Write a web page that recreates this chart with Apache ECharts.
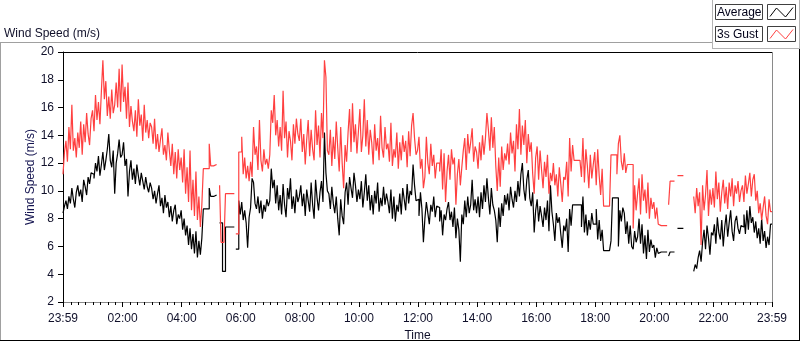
<!DOCTYPE html>
<html>
<head>
<meta charset="utf-8">
<script src="https://cdn.jsdelivr.net/npm/echarts@6/dist/echarts.min.js"></script>
<style>
html,body{margin:0;padding:0;background:#ffffff;}
#chart{width:800px;height:342px;}
</style>
</head>
<body>
<div id="chart"></div>
<script>
// ---- data (minutes after 23:59, one sample every 3 minutes) ----
const sampleStepMin = 3;

const avgSpeed = [
  8.4, 8.9, 9.3, 8.7, 9.6, 9.1, 10.2, 9.4, 8.8, 9.9, 10.4, 9.6, 10.1, 9.2, 10.8, 10.3, 9.7, 11.0, 10.5, 11.3,
  11.2, 10.9, 12.0, 11.4, 12.5, 11.1, 11.9, 12.8, 11.5, 12.2, 13.0, 14.1, 12.2, 11.7, 12.9, 9.8, 12.0, 12.7, 13.7, 12.4,
  12.6, 13.5, 11.8, 12.3, 9.6, 11.4, 12.2, 10.8, 11.6, 10.5, 11.9, 11.1, 10.4, 11.3, 10.7, 10.1, 11.0, 10.3, 9.9, 10.6,
  10.2, 9.4, 10.0, 9.1, 9.8, 10.4, 8.9, 9.5, 8.4, 9.7, 8.8, 9.2, 8.1, 8.9, 7.8, 8.6, 9.0, 7.6, 8.3, 8.0,
  8.6, 7.2, 8.0, 6.8, 7.5, 6.1, 7.3, 5.8, 6.9, 5.5, 7.1, 5.2, 6.4, 5.4, 6.6, 8.7, 8.7, 8.7, 8.7, 10.2,
  9.6, 9.6, 9.7, 9.7, null, null, 7.7, 7.7, 4.2, 4.2, 7.4, 7.4, 7.4, 7.4, 7.4, 7.4, null, 5.8, 5.8, 9.3,
  8.3, 9.2, 7.9, 8.6, 7.7, 5.9, 8.1, 8.8, 10.9, 10.6, 9.1, 8.7, 9.6, 8.4, 9.3, 8.0, 9.0, 8.5, 9.4, 8.9,
  9.3, 11.6, 10.2, 10.8, 9.1, 10.4, 8.6, 9.7, 8.3, 10.5, 9.0, 8.1, 10.2, 9.4, 10.9, 8.7, 9.6, 8.4, 10.1, 9.2,
  9.6, 10.4, 8.9, 9.8, 8.2, 10.1, 9.3, 8.5, 10.6, 9.0, 8.0, 10.8, 9.5, 8.6, 9.9, 10.7, 9.2, 14.2, 11.3, 10.0,
  9.8, 8.7, 10.3, 9.1, 8.4, 9.6, 8.0, 6.8, 9.4, 8.2, 7.6, 9.9, 10.6, 9.0, 11.0, 10.2, 9.5, 11.3, 10.4, 9.2,
  10.1, 9.4, 10.7, 8.8, 9.9, 11.2, 9.3, 10.4, 8.6, 9.7, 8.3, 10.0, 9.1, 10.6, 8.5, 9.5, 8.9, 10.3, 9.0, 9.8,
  9.2, 8.4, 10.1, 8.0, 9.6, 7.8, 9.0, 8.5, 9.8, 8.3, 10.2, 9.4, 8.6, 10.5, 9.1, 10.0, 9.7, 11.9, 10.4, 9.3,
  9.4, 8.2, 9.9, 8.7, 6.3, 8.0, 9.2, 8.4, 7.6, 9.0, 8.5, 9.6, 8.1, 8.9, 8.8, 7.8, 8.6, 6.8, 8.3, 7.9,
  8.7, 9.2, 7.9, 8.5, 7.4, 8.8, 6.6, 8.0, 7.2, 4.9, 8.3, 7.6, 9.3, 8.1, 9.6, 8.4, 9.0, 10.8, 8.6, 9.4,
  8.4, 9.6, 8.1, 9.9, 8.7, 10.4, 9.2, 10.9, 9.5, 8.3, 10.2, 9.0, 8.6, 7.9, 6.3, 8.8, 7.4, 9.1, 8.2, 9.7,
  9.0, 9.8, 8.6, 10.3, 9.4, 8.8, 10.0, 9.2, 10.7, 9.6, 11.2, 12.0, 10.1, 9.3, 10.8, 11.5, 9.5, 8.9, 9.9, 7.0,
  8.6, 9.4, 7.8, 8.9, 8.2, 7.4, 8.8, 7.9, 9.3, 7.1, 10.4, 8.5, 7.6, 6.4, 8.4, 7.7, 8.1, 6.9, 5.9, 7.5,
  7.1, 8.0, 5.6, 8.7, 7.5, 9.0, 9.0, 9.0, 9.0, 9.0, 9.0, 7.4, 9.6, 7.0, 8.3, 6.8, 7.9, 7.2, 8.4, 7.6,
  7.6, 8.7, 6.5, 7.9, 6.4, 7.2, 5.7, 5.7, 5.7, 5.7, 5.7, 6.4, 9.5, 9.5, 9.5, 9.5, 6.0, 8.6, 7.8, 8.8,
  8.4, 6.9, 7.8, 6.2, 7.5, 6.0, 5.8, 7.1, 6.3, 6.7, 8.0, 6.2, 7.6, 5.5, 6.8, 5.1, 7.2, 5.6, 6.5, 5.9,
  6.1, 5.2, 5.9, 5.5, 5.6, 5.6, 5.6, 5.6, 5.6, null, 5.3, 5.6, 5.6, 5.6, null, null, 7.3, 7.3, 7.3, 7.3,
  null, null, null, null, null, null, null, 4.2, 4.7, 4.4, 5.2, 5.7, 4.9, 6.3, 7.2, 5.8, 7.5, 6.6, 5.4, 7.0,
  6.8, 7.6, 6.2, 8.1, 7.0, 6.5, 7.9, 6.0, 7.4, 8.3, 6.7, 7.7, 8.6, 7.1, 6.4, 7.8, 8.2, 7.3, 6.9, 7.5,
  7.4, 8.3, 6.9, 8.6, 7.2, 8.9, 7.7, 8.1, 7.0, 7.8, 6.6, 7.3, 6.2, 8.0, 6.4, 7.1, 5.9, 6.7, 6.1, 7.6,
  7.6
];

const gustSpeed = [
  11.2, 12.8, 13.6, 12.1, 14.6, 13.0, 16.2, 12.9, 13.8, 12.4, 14.2, 13.1, 15.0, 12.6, 14.8, 13.5, 15.6, 14.1, 13.3, 15.2,
  15.8, 14.3, 16.9, 15.1, 16.4, 14.8, 17.2, 19.4, 16.6, 17.9, 15.4, 16.8, 15.2, 17.3, 15.6, 16.2, 17.8, 16.0, 18.8, 15.7,
  19.1, 16.4, 17.5, 15.2, 17.8, 14.6, 16.1, 15.0, 14.3, 15.8, 13.9, 16.6, 14.7, 15.5, 13.6, 16.2, 14.2, 15.1, 13.8, 14.9,
  14.6, 13.4, 15.2, 13.0, 14.1, 12.8, 13.7, 14.5, 12.6, 13.3, 12.2, 14.2, 12.9, 11.8, 13.4, 11.2, 12.8, 10.9, 13.0, 11.5,
  12.4, 10.6, 13.0, 9.8, 11.7, 9.2, 12.9, 8.6, 10.8, 8.2, 11.4, 7.9, 9.6, 7.4, 9.0, 11.6, 11.6, 11.6, 11.6, 13.4,
  11.8, 11.8, 11.9, 11.9, null, null, 10.4, 6.3, 6.3, 6.3, 9.8, 9.8, 9.8, 9.8, 9.8, 9.8, null, 6.9, 6.9, 12.8,
  12.8, 13.9, 11.2, 12.4, 10.9, 11.8, 10.7, 12.1, 11.0, 14.6, 12.6, 13.2, 11.5, 15.1, 12.2, 11.4, 13.0, 11.9, 12.3, 11.6,
  12.6, 15.8, 14.9, 16.9, 14.0, 15.1, 13.2, 14.6, 12.9, 17.2, 13.8, 15.0, 12.4, 14.3, 13.6, 12.2, 14.8, 13.4, 15.2, 14.1,
  13.6, 15.2, 12.8, 14.1, 11.9, 13.7, 15.1, 12.5, 14.4, 13.0, 12.2, 15.8, 13.3, 14.7, 12.4, 15.6, 13.8, 19.4, 18.2, 12.9,
  12.6, 14.4, 11.8, 13.9, 12.3, 15.0, 13.1, 11.4, 14.6, 12.0, 10.2, 13.3, 12.1, 14.2, 15.9, 12.8, 16.3, 13.5, 14.8, 12.7,
  14.3, 15.9, 12.8, 14.0, 16.6, 13.2, 15.1, 12.6, 14.4, 13.5, 11.9, 14.8, 12.9, 13.8, 12.2, 15.4, 13.1, 12.4, 14.6, 13.0,
  13.4, 12.1, 14.9, 11.8, 13.0, 12.4, 14.2, 11.6, 13.5, 12.2, 14.0, 12.8, 13.6, 11.7, 14.3, 12.5, 14.7, 15.6, 13.8, 12.6,
  12.9, 13.9, 11.6, 12.3, 10.2, 11.0, 13.9, 12.0, 11.2, 13.4, 11.8, 12.6, 10.9, 12.0, 12.0, 11.4, 13.0, 10.1, 12.7, 9.2,
  11.4, 12.6, 10.8, 13.0, 11.9, 12.4, 9.0, 11.2, 12.3, 10.4, 11.7, 12.9, 13.8, 11.5, 14.1, 12.7, 13.5, 14.5, 12.1, 13.2,
  12.8, 11.6, 13.5, 12.2, 14.0, 12.6, 13.8, 15.6, 14.4, 12.9, 15.3, 13.1, 14.6, 11.8, 10.0, 12.4, 10.3, 13.2, 11.5, 12.7,
  12.2, 13.4, 11.9, 14.2, 12.7, 13.6, 11.4, 14.8, 13.0, 15.9, 12.6, 14.7, 13.3, 15.1, 12.0, 14.1, 12.8, 13.5, 11.2, 9.8,
  12.4, 13.2, 10.8, 12.9, 11.5, 10.2, 12.1, 11.0, 12.6, 9.8, 11.3, 10.7, 12.0, 10.4, 11.2, 9.6, 11.7, 10.5, 9.2, 11.0,
  10.8, 12.1, 9.6, 13.8, 11.4, 13.3, 12.2, 12.2, 12.2, 12.2, 12.2, 11.0, 13.8, 10.6, 13.0, 11.8, 10.2, 12.6, 10.9, 11.9,
  12.8, 10.4, 13.0, 11.1, 9.7, 11.6, 8.9, 8.9, 8.9, 8.9, 8.9, 12.6, 12.6, 12.6, 12.6, 11.2, 13.4, 14.0, 12.1, 11.5,
  12.7, 11.3, 11.9, 11.9, 11.9, 11.9, 7.3, 10.4, 8.6, 9.8, 10.9, 8.3, 11.2, 9.3, 10.1, 8.4, 10.6, 8.0, 9.5, 8.7,
  9.2, 8.0, 8.8, 7.6, 7.5, 7.5, 7.5, 7.5, 7.5, null, 9.0, 10.7, 10.7, 10.7, null, null, 11.1, 11.1, 11.1, 11.1,
  null, null, null, null, null, null, null, 9.6, 8.4, 10.2, 8.9, 9.9, 6.1, 10.4, 8.6, 9.7, 11.5, 8.2, 10.1, 9.0,
  10.2, 8.8, 11.4, 9.4, 10.6, 8.5, 9.9, 10.8, 9.1, 10.3, 8.7, 10.6, 9.6, 10.9, 8.9, 10.4, 9.8, 10.7, 9.2, 10.0,
  10.4, 9.2, 11.1, 9.8, 10.5, 11.3, 9.6, 10.8, 11.2, 9.3, 10.0, 8.4, 9.1, 7.9, 8.8, 9.6, 8.2, 7.6, 9.4, 8.5,
  8.5
];

const seriesNames = ['Average', '3s Gust'];
const majorTickMin = [0, 121, 241, 361, 481, 601, 721, 841, 961, 1081, 1201, 1321, 1440];
const majorTickLabels = ['23:59', '02:00', '04:00', '06:00', '08:00', '10:00', '12:00', '14:00', '16:00', '18:00', '20:00', '22:00', '23:59'];
const yTicks = [2, 4, 6, 8, 10, 12, 14, 16, 18, 20];

// ---- build ----
const minorTickMin = [];
for (let m = 1; m < 1440; m += 15) { if (majorTickMin.indexOf(m) < 0) minorTickMin.push(m); }

function toPairs(arr) {
  return arr.map((v, i) => [i * sampleStepMin, v === null ? '-' : v]);
}

const FONT = '"Liberation Sans", Arial, sans-serif';
const TXT = '#10102a';

const chart = echarts.init(document.getElementById('chart'), null, { renderer: 'canvas' });

function hline(x1, x2, y, color) {
  return { type: 'line', silent: true, shape: { x1: x1, y1: y, x2: x2, y2: y }, style: { stroke: color, lineWidth: 1 } };
}
function vline(x, y1, y2, color) {
  return { type: 'line', silent: true, shape: { x1: x, y1: y1, x2: x, y2: y2 }, style: { stroke: color, lineWidth: 1 } };
}
function legendRow(name, color, y) {
  return [
    { type: 'rect', shape: { x: 715.5, y: y + 0.5, width: 47, height: 15 }, style: { fill: '#ffffff', stroke: '#404040', lineWidth: 1 } },
    { type: 'text', x: 717, y: y + 8.5, style: { text: name, fill: '#000018', font: '12px ' + FONT, textVerticalAlign: 'middle' } },
    { type: 'rect', shape: { x: 767.5, y: y + 0.5, width: 28, height: 15 }, style: { fill: '#ffffff', stroke: '#404040', lineWidth: 1 } },
    { type: 'polyline', shape: { points: [[770, y + 12.5], [776.5, y + 4], [785.5, y + 13], [793, y + 3.5]] }, style: { stroke: color, lineWidth: 1, fill: null } }
  ];
}

const option = {
  animation: false,
  backgroundColor: '#ffffff',
  textStyle: { fontFamily: FONT },
  title: {
    text: 'Wind Speed (m/s)',
    left: -1, top: 23,
    textStyle: { fontSize: 12, fontWeight: 'normal', color: TXT, fontFamily: FONT }
  },
  grid: { left: 63, right: 28, top: 52, bottom: 40, containLabel: false, outerBoundsMode: 'none' },
  xAxis: [
    {
      type: 'value', min: 0, max: 1440,
      name: 'Time', nameLocation: 'middle', nameGap: 28, nameMoveOverlap: false,
      nameTextStyle: { fontSize: 12, color: TXT, fontFamily: FONT },
      axisLine: { show: true, lineStyle: { color: '#8a8a8a', width: 1 } },
      axisTick: { show: true, customValues: majorTickMin, length: 5, lineStyle: { color: '#000000' } },
      axisLabel: {
        show: true, customValues: majorTickMin, margin: 11, fontSize: 12, color: TXT, fontFamily: FONT,
        formatter: function (v) { const k = majorTickMin.indexOf(Math.round(v)); return k >= 0 ? majorTickLabels[k] : ''; }
      },
      splitLine: { show: false }
    },
    {
      type: 'value', min: 0, max: 1440, position: 'bottom',
      axisLine: { show: false },
      axisTick: { show: true, customValues: minorTickMin, length: 3, lineStyle: { color: '#000000' } },
      axisLabel: { show: false },
      splitLine: { show: false }
    }
  ],
  yAxis: {
    type: 'value', min: yTicks[0], max: yTicks[yTicks.length - 1], interval: 2,
    name: 'Wind Speed (m/s)', nameLocation: 'middle', nameGap: 26, nameMoveOverlap: false,
    nameTextStyle: { fontSize: 12, color: '#141450', fontFamily: FONT },
    axisLine: { show: true, lineStyle: { color: '#000000', width: 1 } },
    axisTick: { show: true, length: 5, lineStyle: { color: '#000000' } },
    axisLabel: { margin: 9, fontSize: 12, color: TXT, fontFamily: FONT },
    splitLine: { show: false }
  },
  series: [
    {
      name: seriesNames[0], type: 'line', step: 'end', showSymbol: false, connectNulls: false,
      xAxisIndex: 0, data: toPairs(avgSpeed),
      lineStyle: { color: '#000000', width: 1.2 }, itemStyle: { color: '#000000' }
    },
    {
      name: seriesNames[1], type: 'line', step: 'end', showSymbol: false, connectNulls: false,
      xAxisIndex: 0, data: toPairs(gustSpeed),
      lineStyle: { color: '#ff4040', width: 1.2 }, itemStyle: { color: '#ff4040' }
    }
  ],
  graphic: [].concat(
    [
      hline(0, 712, 42.5, '#a0a0a0'),
      vline(0.5, 42, 341, '#a0a0a0'),
      hline(0, 800, 340.5, '#000000'),
      vline(799.5, 48, 341, '#000000'),
      vline(712.5, 0, 49, '#b4b4b4'),
      hline(712, 800, 48.5, '#b4b4b4'),
      vline(799.5, 0, 48, '#b4b4b4'),
      hline(63, 772, 52.5, '#000000'),
      vline(772.5, 52, 303, '#8a8a8a')
    ],
    legendRow(seriesNames[0], '#000000', 4),
    legendRow(seriesNames[1], '#ff4040', 26)
  )
};

chart.setOption(option);
</script>
</body>
</html>
